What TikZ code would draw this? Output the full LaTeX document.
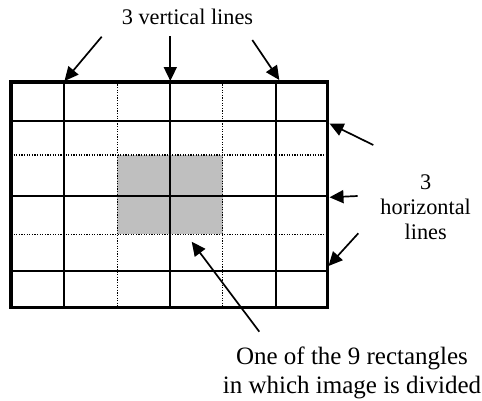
\documentclass[tikz,border=0pt]{standalone}
\usepackage{fontspec}
\setmainfont{Liberation Serif}
\usetikzlibrary{arrows.meta}
\begin{document}
\begin{tikzpicture}[x=1pt,y=-1pt,
  solidline/.style={line width=1.8pt},
  dotline/.style={line width=1.2pt,dash pattern=on 1.2pt off 1.4pt},
  outer/.style={line width=3.6pt},
  pointer/.style={line width=1.7pt,-{Triangle[length=14pt,width=13pt]}},
  lbl/.style={font=\fontsize{22.3}{25}\selectfont,align=center,inner sep=0pt}]
\useasboundingbox (0,0) rectangle (482,400);
% shaded region
\fill[gray!50] (117.3,155) rectangle (222.7,234.3);
% dotted lines
\foreach \x in {117.3,222.7} \draw[dotline] (\x,81.7) -- (\x,307.5);
\foreach \y in {155,234.3} \draw[dotline] (11,\y) -- (327.5,\y);
% solid lines
\foreach \x in {64,170.3,276} \draw[solidline] (\x,81.7) -- (\x,307.5);
\foreach \y in {120.7,195.7,271} \draw[solidline] (11,\y) -- (327.5,\y);
% outer frame
\draw[outer] (11,81.7) rectangle (327.5,307.5);
% labels
\node[lbl] (vlab) at (187.5,17) {3 vertical lines};
\node[lbl] (hlab) at (425.7,207) {3\\horizontal\\lines};
\node[lbl,font=\fontsize{25}{28.3}\selectfont] (rlab) at (352,373) {One of the 9 rectangles\\in which image is divided};
% arrow coordinates
\coordinate (a1s) at (101.7,36.7); \coordinate (a1e) at (64.5,81);
\coordinate (a2s) at (170.3,36);   \coordinate (a2e) at (170.3,81);
\coordinate (a3s) at (252.3,40);   \coordinate (a3e) at (279.3,80);
\coordinate (b1s) at (373.3,145);  \coordinate (b1e) at (329.5,123.5);
\coordinate (b2s) at (357.7,196);  \coordinate (b2e) at (329.5,197.3);
\coordinate (b3s) at (358.3,233.3);\coordinate (b3e) at (328.5,266);
\coordinate (c1s) at (259.3,331.7);\coordinate (c1e) at (191.7,241.7);
\draw[pointer] (a1s) -- (a1e);
\draw[pointer] (a2s) -- (a2e);
\draw[pointer] (a3s) -- (a3e);
\draw[pointer] (b1s) -- (b1e);
\draw[pointer] (b2s) -- (b2e);
\draw[pointer] (b3s) -- (b3e);
\draw[pointer] (c1s) -- (c1e);
\end{tikzpicture}
\end{document}
